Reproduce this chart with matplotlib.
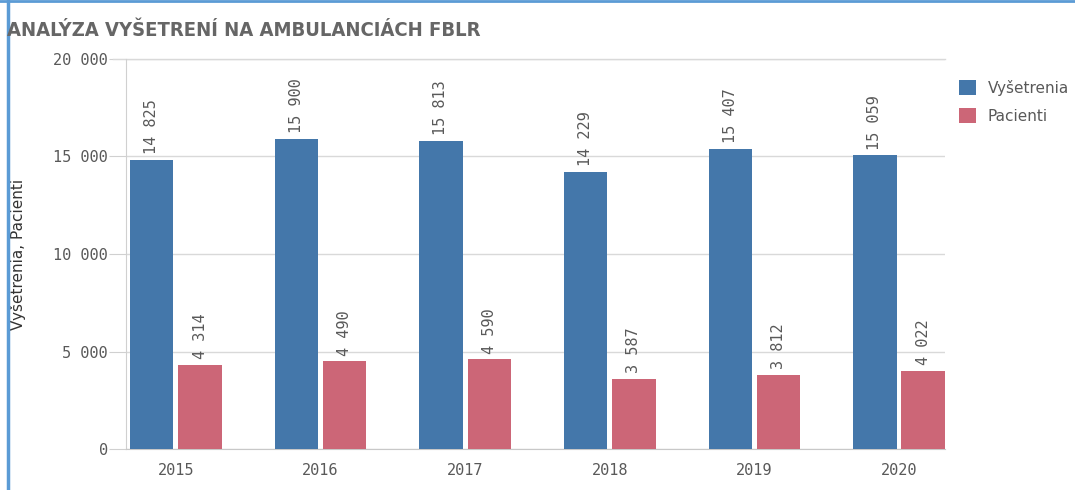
import numpy as np
import matplotlib.pyplot as plt
from matplotlib.ticker import FuncFormatter

roky = ["2015", "2016", "2017", "2018", "2019", "2020"]
vysetrenia = [14825, 15900, 15813, 14229, 15407, 15059]
pacienti = [4314, 4490, 4590, 3587, 3812, 4022]

BLUE = "#4477aa"
PINK = "#cc6677"
GREY = "#595959"

def fmt(v, pos=None):
    return "{:,}".format(int(v)).replace(",", "\u2009")

fig = plt.figure(figsize=(10.75, 4.9), dpi=100)
ax = fig.add_axes([126 / 1075, 1 - 449 / 490, (945 - 126) / 1075, (449 - 59) / 490])

x = np.arange(len(roky))
w = 0.30
off = 0.167
b1 = ax.bar(x - off, vysetrenia, w, color=BLUE, label="Vyšetrenia", zorder=3)
b2 = ax.bar(x + off, pacienti, w, color=PINK, label="Pacienti", zorder=3)

for bars in (b1, b2):
    for r in bars:
        ax.annotate(fmt(r.get_height()), (r.get_x() + r.get_width() / 2, r.get_height()),
                    xytext=(0, 4), textcoords="offset points", rotation=90,
                    ha="center", va="bottom", fontsize=11, color=GREY,
                    family="DejaVu Sans Mono")

ax.set_ylim(0, 20000)
ax.set_xlim(-0.345, 5.318)
ax.set_yticks([0, 5000, 10000, 15000, 20000])
ax.yaxis.set_major_formatter(FuncFormatter(fmt))
ax.set_xticks(x)
ax.set_xticklabels(roky)
ax.grid(axis="y", color="#d9d9d9", lw=1, zorder=0)
for s in ("top", "right"):
    ax.spines[s].set_visible(False)
ax.spines["left"].set_color("#d0d0d0")
ax.spines["bottom"].set_color("#c8c8c8")
ax.tick_params(axis="y", length=12, color="#d0d0d0", pad=1)
ax.tick_params(axis="x", length=0, pad=10)
for t in ax.get_xticklabels() + ax.get_yticklabels():
    t.set_family("DejaVu Sans Mono")
    t.set_fontsize(11)
    t.set_color(GREY)
ax.set_ylabel("Vyšetrenia, Pacienti", fontsize=11, color="#333333")
ax.yaxis.set_label_coords((26 - 126) / 819, 0.5)

# top line across plot area
ax.plot([-0.016, 1], [1, 1], transform=ax.transAxes, color="#d9d9d9", lw=1, clip_on=False)

leg = fig.legend(loc="upper left", bbox_to_anchor=(945 / 1075, 1 - 66 / 490), frameon=False,
                 fontsize=11, handlelength=1.1, handleheight=1.1, handletextpad=0.8,
                 labelspacing=0.8)
for t in leg.get_texts():
    t.set_color(GREY)

fig.text(7 / 1075, 1 - 30 / 490, "ANALÝZA VYŠETRENÍ NA AMBULANCIÁCH FBLR",
         fontsize=14.5, fontweight="bold", color="#666666", va="center",
         family="DejaVu Sans", fontstretch="condensed")

# blue window border
fig.add_artist(plt.Line2D([7.5 / 1075, 7.5 / 1075], [0, 1], color="#5b9bd5", lw=2.5))
fig.add_artist(plt.Line2D([0, 1], [1 - 1 / 490, 1 - 1 / 490], color="#5b9bd5", lw=2))

fig.savefig("out.png", dpi=100)
